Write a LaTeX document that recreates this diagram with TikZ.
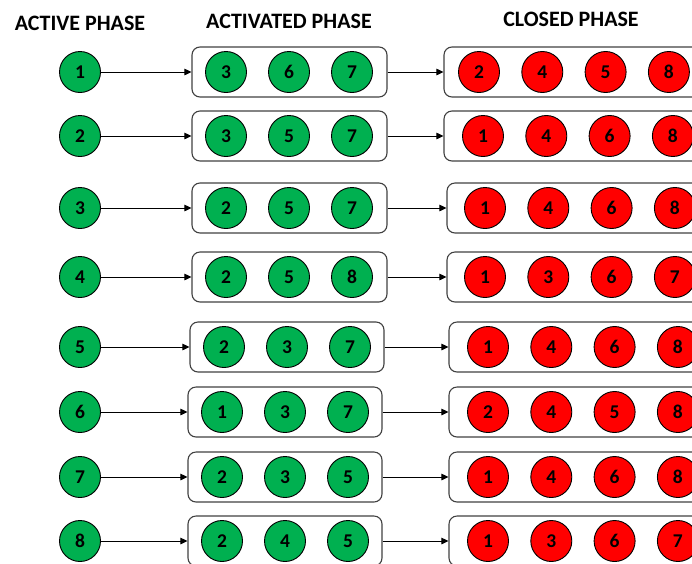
\documentclass[tikz,border=0pt]{standalone}
\usepackage{fontspec}
\setmainfont{Carlito}
\usetikzlibrary{arrows.meta}
\definecolor{gfill}{HTML}{00B050}
\definecolor{rfill}{HTML}{FF0000}
\definecolor{boxline}{HTML}{404040}
\tikzset{
  phasenode/.style={circle, draw=black, line width=0.9pt, minimum size=41pt, inner sep=0pt,
    font=\fontsize{19.5}{21}\selectfont\bfseries},
  gc/.style={phasenode, fill=gfill},
  rc/.style={phasenode, fill=rfill},
  setbox/.style={draw=boxline, line width=1.1pt, rounded corners=8pt, minimum height=50pt, inner sep=0pt},
  conn/.style={line width=0.9pt, -{Triangle[length=7pt,width=6.5pt]}},
  title/.style={font=\fontsize{22}{24}\selectfont\bfseries, inner sep=0pt}
}
\begin{document}
\begin{tikzpicture}[x=1pt,y=-1pt]
\useasboundingbox (0,0) rectangle (692,563);
\clip (0,0) rectangle (692,563);
\node[title] (t1) at (80,23) {ACTIVE PHASE};
\node[title] (t2) at (289,21) {ACTIVATED PHASE};
\node[title] (t3) at (571,19.5) {CLOSED PHASE};
\foreach \r/\y/\act/\bl/\br/\ax/\an/\cl/\cx/\cn in {
  1/72/1/192/387/226/{3,6,7}/444/479/{2,4,5,8},
  2/136/2/192/387/226/{3,5,7}/444/483/{1,4,6,8},
  3/208/3/192/387/226/{2,5,7}/447/485/{1,4,6,8},
  4/277/4/192/387/226/{2,5,8}/447/485/{1,3,6,7},
  5/347/5/190/384/224/{2,3,7}/449/488/{1,4,6,8},
  6/412/6/188/382/222/{1,3,7}/449/488/{2,4,5,8},
  7/477/7/188/382/222/{2,3,5}/449/488/{1,4,6,8},
  8/541/8/188/382/222/{2,4,5}/449/488/{1,3,6,7}}{
  \node[gc] (a\r) at (80,\y) {\act};
  \node[setbox, minimum width={(\br-\bl)*1pt}] (b\r) at ({(\bl+\br)/2},\y) {};
  \node[setbox, minimum width={(\cx+224-\cl)*1pt}] (c\r) at ({(\cl+\cx+224)/2},\y) {};
  \foreach \n [count=\i] in \an {
    \node[gc] (b\r-\i) at ({\ax+63*(\i-1)},\y) {\n};
  }
  \foreach \n [count=\i] in \cn {
    \node[rc] (c\r-\i) at ({\cx+63.3*(\i-1)},\y) {\n};
  }
  \draw[conn] (a\r) -- (b\r);
  \draw[conn] (b\r) -- (c\r);
}
\end{tikzpicture}
\end{document}
